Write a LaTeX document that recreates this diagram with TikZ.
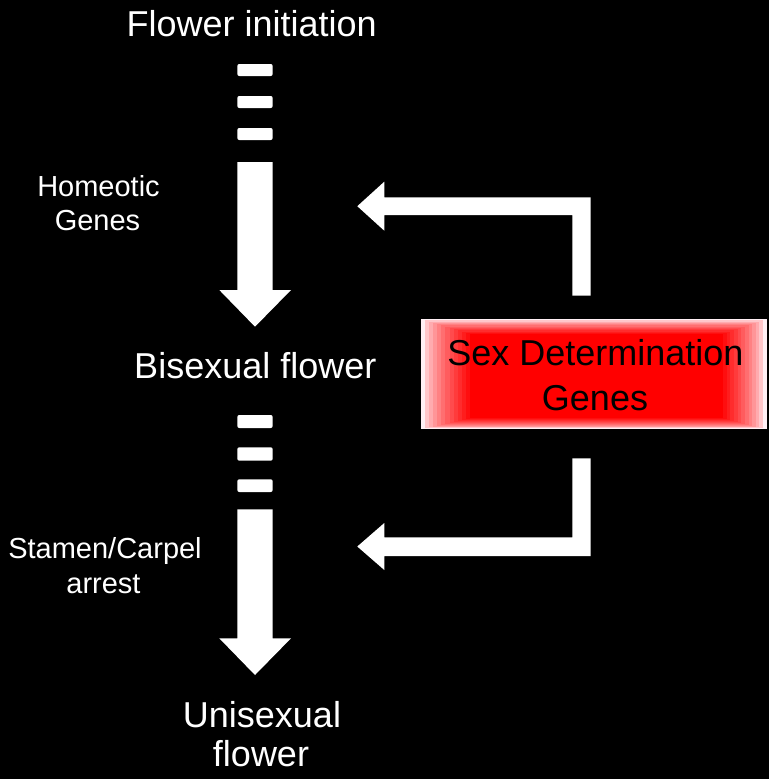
\documentclass[tikz,border=0pt]{standalone}
\usepackage{fontspec}
\setmainfont{Liberation Sans}
\begin{document}
\begin{tikzpicture}[x=1pt,y=-1pt]
\definecolor{glow}{RGB}{255,240,245}
\tikzset{
 bigtext/.style={text=white,font=\fontsize{36}{40}\selectfont,anchor=base,inner sep=0pt},
 smalltext/.style={text=white,font=\fontsize{29}{32}\selectfont,anchor=base,inner sep=0pt},
 boxtext/.style={text=black,font=\fontsize{36}{40}\selectfont,anchor=base,inner sep=0pt},
 blockarrow/.style={fill=white,draw=none},
 dashbar/.style={fill=white,rounded corners=2pt},
}
\fill[black] (0,0) rectangle (769,779);
\useasboundingbox (0,0) rectangle (769,779);
% top vertical arrow
\fill[dashbar] (237.3,64) rectangle (272.7,76);
\fill[dashbar] (237.3,96) rectangle (272.7,108);
\fill[dashbar] (237.3,128) rectangle (272.7,140);
\fill[blockarrow] (237.3,162) -- (272.7,162) -- (272.7,290) -- (291,290) -- (255,326.7) -- (219.3,290) -- (237.3,290) -- cycle;
% bottom vertical arrow
\fill[dashbar] (237.3,415) rectangle (272.7,428);
\fill[dashbar] (237.3,447.3) rectangle (272.7,460.7);
\fill[dashbar] (237.3,479.3) rectangle (272.7,492);
\fill[blockarrow] (237.3,509.3) -- (272.7,509.3) -- (272.7,638.3) -- (291,638.3) -- (255,675) -- (219.3,638.3) -- (237.3,638.3) -- cycle;
% elbow arrows
\fill[blockarrow] (590.7,295.7) -- (590.7,197.3) -- (384.3,197.3) -- (384.3,181.7) -- (357.3,206.2) -- (384.3,230.7) -- (384.3,215) -- (572.3,215) -- (572.3,295.7) -- cycle;
\fill[blockarrow] (572.3,458.3) -- (590.7,458.3) -- (590.7,556) -- (384.3,556) -- (384.3,570) -- (357.3,546.5) -- (384.3,523) -- (384.3,537.3) -- (572.3,537.3) -- cycle;
% glowing red box
\foreach \i in {0,...,12} {
  \pgfmathsetmacro\p{100*(\i/12)^0.7}
  \fill[red!\p!glow] (421+4.08*\i, 319+1.25*\i) rectangle (766.7-3.64*\i, 429.3-0.92*\i);
}
% texts
\node[bigtext] (fi) at (251.7,36.7) {Flower initiation};
\node[bigtext] (bf) at (255.3,378.3) {Bisexual flower};
\node[bigtext] (uf1) at (262,727.3) {Unisexual};
\node[bigtext] (uf2) at (261,766.7) {flower};
\node[smalltext] (hg1) at (98.5,196) {Homeotic};
\node[smalltext] (hg2) at (97.5,230.7) {Genes};
\node[smalltext] (sc1) at (105,558.3) {Stamen/Carpel};
\node[smalltext] (sc2) at (103.5,593.3) {arrest};
\node[boxtext] (sd1) at (595.5,365) {Sex Determination};
\node[boxtext] (sd2) at (595,410) {Genes};
\end{tikzpicture}
\end{document}
